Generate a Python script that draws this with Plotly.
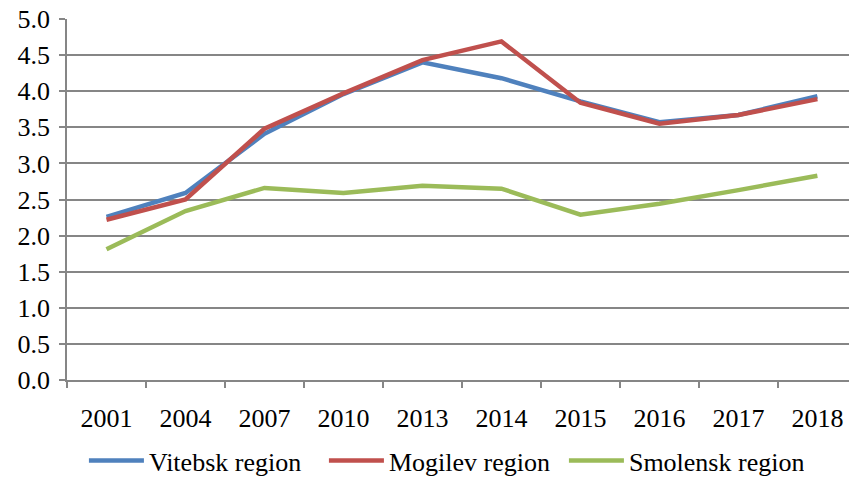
import plotly.graph_objects as go

years = ["2001", "2004", "2007", "2010", "2013", "2014", "2015", "2016", "2017", "2018"]
vitebsk = [2.26, 2.59, 3.41, 3.96, 4.40, 4.18, 3.86, 3.57, 3.67, 3.93]
mogilev = [2.22, 2.50, 3.48, 3.97, 4.43, 4.69, 3.84, 3.55, 3.67, 3.89]
smolensk = [1.81, 2.34, 2.66, 2.59, 2.69, 2.65, 2.29, 2.44, 2.63, 2.83]

series = [
    ("Vitebsk region", vitebsk, "#4F81BD"),
    ("Mogilev region", mogilev, "#C0504D"),
    ("Smolensk region", smolensk, "#9BBB59"),
]

fig = go.Figure()
for name, vals, color in series:
    fig.add_trace(go.Scatter(x=years, y=vals, name=name, mode="lines",
                             line=dict(color=color, width=4.5)))

font = dict(family="Liberation Serif, Times New Roman, serif", size=26, color="#000000")
H = 484
T = 19
area = H - T  # b = 0
fig.update_layout(
    width=849, height=H,
    margin=dict(l=67, r=0, t=T, b=0, pad=0),
    paper_bgcolor="white", plot_bgcolor="white",
    font=font,
    showlegend=True,
    legend=dict(orientation="h", x=0.482, xanchor="center",
                y=0, yanchor="bottom",
                font=font, itemwidth=55, entrywidth=170, entrywidthmode="pixels",
                tracegroupgap=0, bgcolor="rgba(0,0,0,0)"),
)
fig.update_xaxes(type="category", range=[-0.5, 9.4], showgrid=False,
                 showline=True, linecolor="#868686", linewidth=1.5,
                 ticks="outside", tickson="boundaries", ticklen=6, tickcolor="#868686",
                 tickwidth=1.5, ticklabelstandoff=14, tickfont=font, automargin=False)
fig.update_yaxes(range=[0, 5.0], dtick=0.5, tickformat=".1f", showgrid=True,
                 domain=[(H - 380) / area, 1],
                 gridcolor="#868686", gridwidth=1.5, zeroline=False,
                 showline=True, linecolor="#868686", linewidth=1.5,
                 ticks="outside", ticklen=6, tickcolor="#868686", tickwidth=1.5,
                 ticklabelstandoff=4, tickfont=font, automargin=False)

fig.write_html(
    "out.html",
    config={"displayModeBar": False},
    post_script="document.body.style.margin='0px';"
                "document.documentElement.style.overflow='hidden';",
)
